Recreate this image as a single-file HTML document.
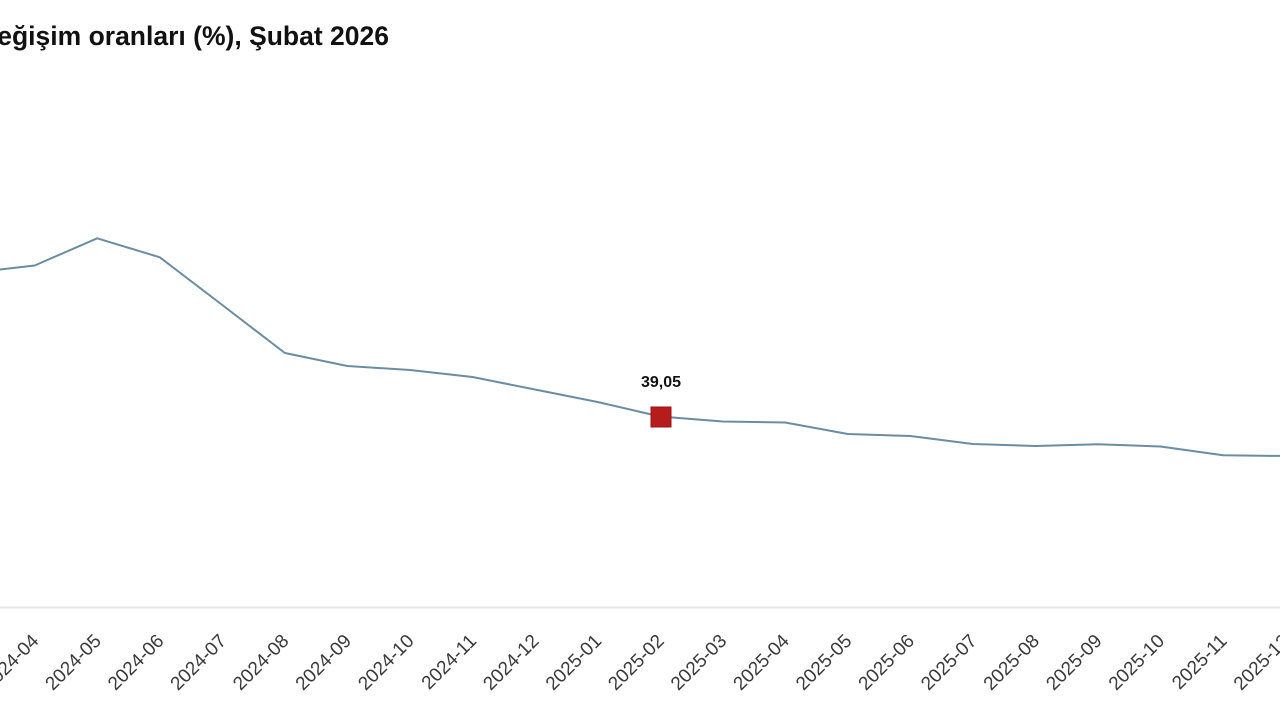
<!DOCTYPE html>
<html>
<head>
<meta charset="utf-8">
<style>
  html,body{margin:0;padding:0;background:#ffffff;}
  svg{display:block;}
</style>
</head>
<body>
<svg width="1280" height="720" viewBox="0 0 1280 720" xmlns="http://www.w3.org/2000/svg">
  <rect width="1280" height="720" fill="#ffffff"/>
  <text x="389" y="45" text-anchor="end" font-family="Liberation Sans, sans-serif" font-weight="bold" font-size="26.5" fill="#111111">değişim oranları (%), Şubat 2026</text>

  <line x1="0" y1="607.5" x2="1280" y2="607.5" stroke="#e4e4e4" stroke-width="2"/>

  <polyline fill="none" stroke="#6c8ca2" stroke-width="2" stroke-linejoin="round" points="-27.5,272.7 34.7,265.5 97.2,238.3 159.8,257.3 222.3,305 284.9,353 347.4,366 410,370 472.5,377 535,389.5 597.6,402 660.1,416.5 722.7,421.5 785.2,422.5 847.8,434 910.3,436 972.9,444 1035.4,446 1098,444.3 1160.5,446.5 1223,455.3 1285.6,456"/>

  <rect x="651" y="407" width="20" height="20" fill="#b71c1c" stroke="#9a1414" stroke-width="1"/>
  <text x="661" y="387" text-anchor="middle" font-family="Liberation Sans, sans-serif" font-weight="bold" font-size="16" fill="#111111">39,05</text>

  <g font-family="Liberation Sans, sans-serif" font-size="19" fill="#3a3a3a" text-anchor="end">
    <text transform="translate(39.7,642) rotate(-45)">2024-04</text>
    <text transform="translate(102.2,642) rotate(-45)">2024-05</text>
    <text transform="translate(164.8,642) rotate(-45)">2024-06</text>
    <text transform="translate(227.3,642) rotate(-45)">2024-07</text>
    <text transform="translate(289.9,642) rotate(-45)">2024-08</text>
    <text transform="translate(352.4,642) rotate(-45)">2024-09</text>
    <text transform="translate(415,642) rotate(-45)">2024-10</text>
    <text transform="translate(477.5,642) rotate(-45)">2024-11</text>
    <text transform="translate(540,642) rotate(-45)">2024-12</text>
    <text transform="translate(602.6,642) rotate(-45)">2025-01</text>
    <text transform="translate(665.1,642) rotate(-45)">2025-02</text>
    <text transform="translate(727.7,642) rotate(-45)">2025-03</text>
    <text transform="translate(790.2,642) rotate(-45)">2025-04</text>
    <text transform="translate(852.8,642) rotate(-45)">2025-05</text>
    <text transform="translate(915.3,642) rotate(-45)">2025-06</text>
    <text transform="translate(977.9,642) rotate(-45)">2025-07</text>
    <text transform="translate(1040.4,642) rotate(-45)">2025-08</text>
    <text transform="translate(1103,642) rotate(-45)">2025-09</text>
    <text transform="translate(1165.5,642) rotate(-45)">2025-10</text>
    <text transform="translate(1228,642) rotate(-45)">2025-11</text>
    <text transform="translate(1290.6,642) rotate(-45)">2025-12</text>
  </g>
</svg>
</body>
</html>
